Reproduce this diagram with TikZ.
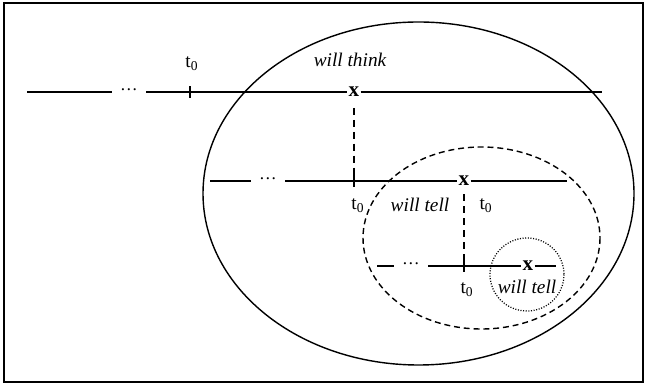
\documentclass[tikz,border=0pt]{standalone}
\usepackage{fontspec}
\setmainfont{Liberation Serif}
\usepackage{tikz}
\usetikzlibrary{positioning}

\begin{document}
\begin{tikzpicture}[
    x=0.02cm, y=-0.02cm,
    font=\fontsize{11}{13}\selectfont,
    ln/.style={line width=0.7pt},
    vdash/.style={ln, dash pattern=on 4pt off 2.8pt},
    pt/.style={inner sep=0.6pt, font=\fontsize{12}{14}\selectfont\bfseries},
    dts/.style={inner xsep=4.5pt, inner ysep=0pt, font=\fontsize{10}{12}\selectfont},
    lbl/.style={inner sep=1pt},
    say/.style={inner sep=1pt, font=\fontsize{11}{13}\selectfont\itshape},
  ]
    \useasboundingbox (0,0) rectangle (645,384);
    \draw[line width=1.1pt] (4,3) rectangle (643,382);

    % ---------- ellipses ----------
    \draw[ln, line width=0.8pt] (418.5,193.5) ellipse [x radius=215.5, y radius=171.5];
    \draw[ln, line width=0.8pt, dash pattern=on 3.4pt off 2.2pt] (481.5,238) ellipse [x radius=118.5, y radius=91];
    \draw[ln, dash pattern=on 0.6pt off 0.9pt] (527,274.5) ellipse [x radius=37, y radius=36.5];

    % ---------- top line ----------
    \coordinate (a1) at (27,92);
    \node[dts] (d1) at (129,90) {\dots};
    \coordinate (k1) at (190,92);
    \node[pt] (x1) at (354,92) {x};
    \coordinate (e1) at (602,92);
    \node[lbl] (t1) at (192,64) {t\textsubscript{0}};
    \node[say] (s1) at (350,60) {will think};
    \draw[ln] (a1) -- (a1 -| d1.west) (d1.east |- k1) -- (k1) -- (x1) -- (e1);

    % ---------- middle line ----------
    \coordinate (a2) at (210,181);
    \node[dts] (d2) at (268,179) {\dots};
    \coordinate (k2) at (354,181);
    \node[pt] (x2) at (464,181) {x};
    \coordinate (e2) at (567,181);
    \node[lbl] (t2) at (358,206) {t\textsubscript{0}};
    \node[say] (s2) at (420,205) {will tell};
    \node[lbl] (t3) at (486,206) {t\textsubscript{0}};
    \draw[ln] (a2) -- (a2 -| d2.west) (d2.east |- k2) -- (k2) -- (x2) -- (e2);

    % ---------- bottom line ----------
    \coordinate (a3) at (377,266);
    \node[dts] (d3) at (411,264) {\dots};
    \coordinate (k3) at (464,266);
    \node[pt] (x3) at (528,266) {x};
    \coordinate (e3) at (556,266);
    \node[lbl] (t4) at (467,290) {t\textsubscript{0}};
    \node[say] (s3) at (527,287) {will tell};
    \draw[ln] (a3) -- (a3 -| d3.west) (d3.east |- k3) -- (k3) -- (x3) -- (e3);

    % ---------- ticks and drops ----------
    \foreach \k in {k1,k2,k3}
      \draw[ln] ([yshift=-3.4pt]\k) -- ([yshift=3.4pt]\k);
    \draw[vdash] ([yshift=-5.5pt]x1.south) -- (k2);
    \draw[vdash] ([yshift=-4pt]x2.south) -- (k3);
\end{tikzpicture}
\end{document}
